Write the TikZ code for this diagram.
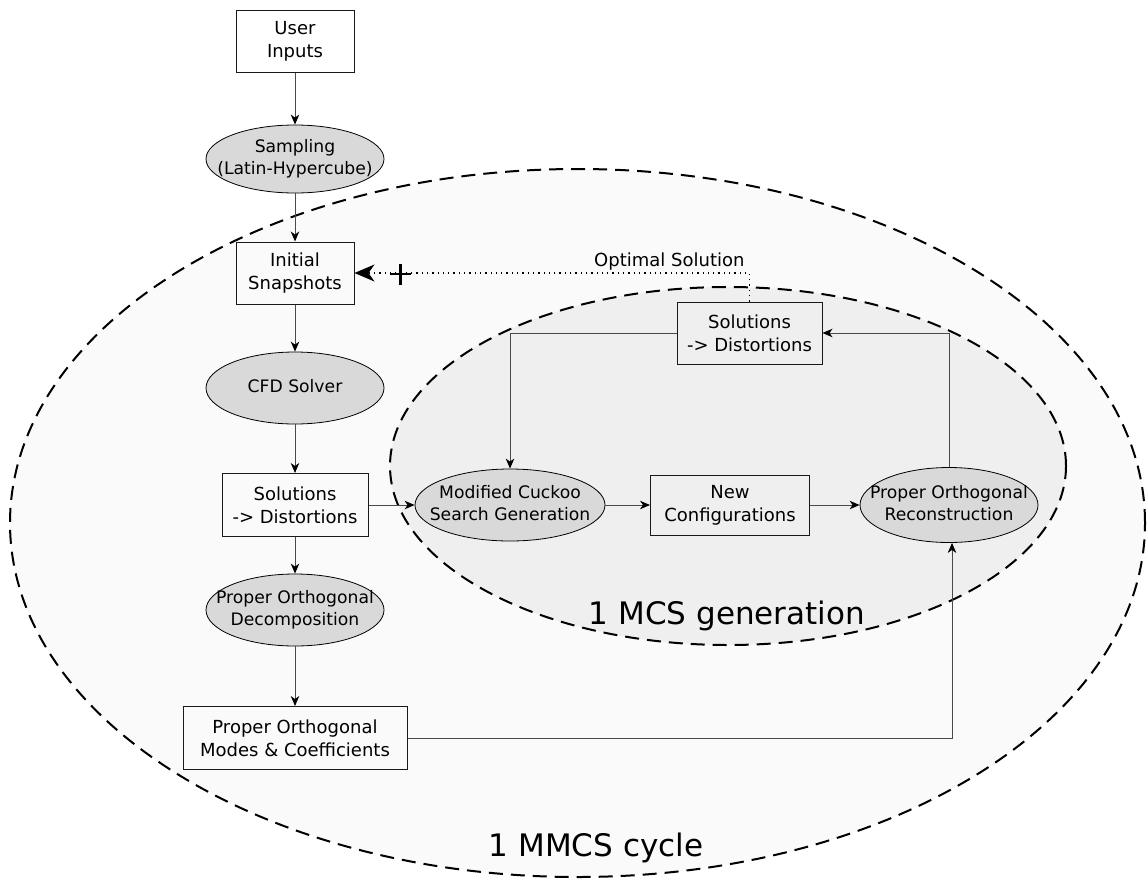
\documentclass[tikz,border=0pt]{standalone}
\usepackage{fontspec}
\setmainfont{DejaVu Sans}
\usetikzlibrary{arrows.meta,shapes.geometric}
\definecolor{outerfill}{HTML}{FAFAFA}
\definecolor{innerfill}{HTML}{EFEFEF}
\definecolor{nodefill}{HTML}{D9D9D9}
\definecolor{linegray}{HTML}{4A4A4A}
\newcommand{\ovtext}[1]{\makebox[0pt]{\begin{tabular}{@{}c@{}}#1\end{tabular}}}
\begin{document}
\begin{tikzpicture}[x=1pt,y=-1pt,
  txt/.style={font=\fontsize{18}{23}\selectfont},
  box/.style={txt, draw=black!90, line width=1pt, align=center, inner sep=0pt, minimum height=62pt},
  oval/.style={font=\fontsize{17.2}{22.5}\selectfont, ellipse, draw=black, line width=0.8pt, fill=nodefill, inner sep=0pt, minimum width=178pt, minimum height=72pt},
  conn/.style={draw=linegray, line width=1pt, -{Stealth[length=10pt,width=8.5pt,inset=3pt,black]}},
  region/.style={ellipse, draw=black, dash pattern=on 14pt off 8pt, line width=2pt, inner sep=0pt},
  biglabel/.style={font=\fontsize{31}{36}\selectfont}
]
\useasboundingbox (0,0) rectangle (1147,878);
\fill[white] (0,0) rectangle (1147,878);

% regions
\node[region, fill=outerfill, minimum width=1135pt, minimum height=708pt] (mmcs) at (577.5,523) {};
\node[region, fill=innerfill, minimum width=676pt, minimum height=358pt] (mcs) at (728,466) {};
\node[biglabel] (mcslabel) at (727,616) {1 MCS generation};
\node[biglabel] (mmcslabel) at (596,848) {1 MMCS cycle};

% left column
\node[box, minimum width=118pt] (user) at (295,41) {User\\Inputs};
\node[oval, minimum height=68pt] (samp) at (295,159) {\ovtext{Sampling\\(Latin-Hypercube)}};
\node[box, minimum width=118pt] (init) at (295,273) {Initial\\Snapshots};
\node[oval] (cfd) at (295,388) {\ovtext{CFD Solver}};
\node[box, minimum width=146pt, minimum height=63pt] (sol1) at (295,505) {Solutions\\-> Distortions};
\node[oval] (pod) at (295,610) {\ovtext{Proper Orthogonal\\Decomposition}};
\node[box, minimum width=224pt, minimum height=63pt] (modes) at (295,738) {Proper Orthogonal\\Modes \& Coefficients};

% inner loop
\node[box, minimum width=145pt] (sol2) at (749.5,333) {Solutions\\-> Distortions};
\node[oval, minimum width=190pt, minimum height=72pt] (cuckoo) at (510,505) {\ovtext{Modified Cuckoo\\Search Generation}};
\node[box, minimum width=159pt, minimum height=60pt] (newconf) at (730,505) {New\\Configurations};
\node[oval, minimum height=75pt] (por) at (949,505) {\ovtext{Proper Orthogonal\\Reconstruction}};

\node[txt, anchor=base east] (opt) at (748,266) {Optimal Solution};

% connectors
\draw[conn] (user) -- (samp);
\draw[conn] (samp) -- (init);
\draw[conn] (init) -- (cfd);
\draw[conn] (cfd) -- (sol1);
\draw[conn] (sol1) -- (cuckoo);
\draw[conn] (sol1) -- (pod);
\draw[conn] (pod) -- (modes);
\draw[conn] (modes.east) -| ([xshift=3pt]por.south);
\draw[conn] (cuckoo) -- (newconf);
\draw[conn] (newconf) -- (por);
\draw[conn] (por.north) |- (sol2.east);
\draw[conn] (sol2.west) -| (cuckoo.north);

% optimal solution feedback
\coordinate (bend) at (sol2.north |- init.east);
\draw[line width=1.2pt, dash pattern=on 1.3pt off 4pt, -{Stealth[length=20pt,width=17pt,inset=6pt]}] (sol2.north) -- (bend) -- (init.east);
\draw[line width=2.6pt] (390,274) -- (411,274) (400.5,264) -- (400.5,285);
\end{tikzpicture}
\end{document}
